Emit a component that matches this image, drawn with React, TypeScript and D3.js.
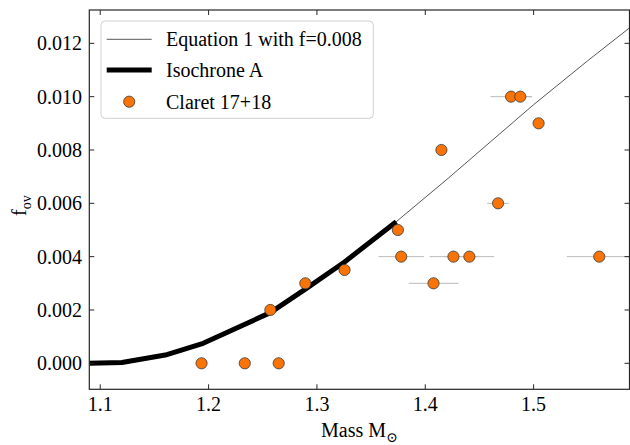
import React from "react";
import * as d3 from "d3";

const eqMass = [1.09, 1.12, 1.16, 1.195, 1.257, 1.29, 1.3255, 1.3732, 1.42, 1.46, 1.5, 1.55, 1.5885];
const eqFov = [0, 0.00003, 0.00031, 0.00075, 0.0019, 0.0028, 0.0038, 0.00531, 0.0069, 0.0083, 0.0097, 0.01135, 0.01258];

const isoMass = [1.09, 1.12, 1.16, 1.195, 1.257, 1.29, 1.3255, 1.3732];
const isoFov = [0, 0.00003, 0.00031, 0.00075, 0.0019, 0.0028, 0.0038, 0.00531];

const claretMass = [1.1935, 1.2334, 1.2647, 1.257, 1.2893, 1.3255, 1.3747, 1.3778, 1.426, 1.4407, 1.4076, 1.5606, 1.4149, 1.4792, 1.4877, 1.5046, 1.4672];
const claretFov = [0, 0, 0, 0.002, 0.003, 0.0035, 0.005, 0.004, 0.004, 0.004, 0.003, 0.004, 0.008, 0.01, 0.01, 0.009, 0.006];
const claretMassErr = [0.002, 0.002, 0.005, 0.002, 0.003, 0.002, 0.002, 0.021, 0.022, 0.023, 0.023, 0.03, 0.004, 0.019, 0.011, 0.002, 0.01];

const xTicks = [1.1, 1.2, 1.3, 1.4, 1.5];
const yTicks = [0, 0.002, 0.004, 0.006, 0.008, 0.01, 0.012];

const legendLabels = ["Equation 1 with f=0.008", "Isochrone A", "Claret 17+18"];

export default function App() {
  const W = 630, H = 445;
  const L = 89.3, R = 629.5, T = 10, B = 389.3;
  const x = d3.scaleLinear().domain([1.0899, 1.5885]).range([L, R]);
  const y = d3.scaleLinear().domain([-0.000975, 0.01325]).range([B, T]);
  const font = "\"Liberation Serif\", \"Times New Roman\", \"DejaVu Serif\", serif";
  const fs = 20;
  const line = d3.line<[number, number]>().x(d => x(d[0])).y(d => y(d[1]));
  const eqPath = line(eqMass.map((m, i) => [m, eqFov[i]] as [number, number])) || "";
  const isoPath = line(isoMass.map((m, i) => [m, isoFov[i]] as [number, number])) || "";
  const orange = "#f97306";
  const edge = "#3a3a3a";
  const tickLen = 5;
  const axisColor = "#262626";
  const ts: React.CSSProperties = { fontFamily: font };

  return (
    <svg width={W} height={H} style={{ position: "absolute", left: 0, top: 0, background: "#fff", fontFamily: font }}>
      <defs>
        <clipPath id="plotclip">
          <rect x={L} y={T} width={R - L} height={B - T} />
        </clipPath>
      </defs>
      <g clipPath="url(#plotclip)">
        <path d={eqPath} fill="none" stroke="#444" strokeWidth={0.9} />
        <path d={isoPath} fill="none" stroke="#000" strokeWidth={5} strokeLinejoin="round" />
        {claretMass.map((m, i) => (
          <line key={"e" + i} x1={x(m - claretMassErr[i])} x2={x(m + claretMassErr[i])} y1={y(claretFov[i])} y2={y(claretFov[i])} stroke="#bbb" strokeWidth={1} />
        ))}
        {claretMass.map((m, i) => (
          <circle key={"c" + i} cx={x(m)} cy={y(claretFov[i])} r={5.6} fill={orange} stroke={edge} strokeWidth={0.8} />
        ))}
      </g>
      <rect x={L} y={T} width={R - L} height={B - T} fill="none" stroke={axisColor} strokeWidth={1.2} />
      {xTicks.map(t => (
        <g key={"xt" + t}>
          <line x1={x(t)} x2={x(t)} y1={B} y2={B - tickLen} stroke={axisColor} strokeWidth={1} />
          <line x1={x(t)} x2={x(t)} y1={T} y2={T + tickLen} stroke={axisColor} strokeWidth={1} />
          <text x={x(t)} y={411} fontSize={fs} textAnchor="middle" fill="#000" style={ts}>{t.toFixed(1)}</text>
        </g>
      ))}
      {yTicks.map(t => (
        <g key={"yt" + t}>
          <line x1={L} x2={L + tickLen} y1={y(t)} y2={y(t)} stroke={axisColor} strokeWidth={1} />
          <line x1={R} x2={R - tickLen} y1={y(t)} y2={y(t)} stroke={axisColor} strokeWidth={1} />
          <text x={82} y={y(t)} dy="0.35em" fontSize={fs} textAnchor="end" fill="#000" style={ts}>{t.toFixed(3)}</text>
        </g>
      ))}
      <text x={(L + R) / 2} y={437} fontSize={fs} textAnchor="middle" fill="#000" style={ts}>
        Mass M<tspan fontSize={14} dy={5}>⊙</tspan>
      </text>
      <text transform={`translate(26, ${(T + B) / 2 + 6}) rotate(-90)`} fontSize={fs} textAnchor="middle" fill="#000" style={ts}>
        f<tspan fontSize={14} dy={5}>ov</tspan>
      </text>
      <rect x={101} y={21} width={272.3} height={97.3} rx={4} fill="#fff" fillOpacity={0.85} stroke="#d0d0d0" strokeWidth={1} />
      <line x1={106.7} x2={151.7} y1={39.3} y2={39.3} stroke="#444" strokeWidth={0.9} />
      <line x1={106.7} x2={151.7} y1={70} y2={70} stroke="#000" strokeWidth={5} />
      <circle cx={129.2} cy={101.7} r={5.6} fill={orange} stroke={edge} strokeWidth={0.8} />
      {legendLabels.map((lab, i) => (
        <text key={lab} x={166} y={[39.3, 70, 101.7][i]} dy="0.35em" fontSize={fs} fill="#000" style={ts}>{lab}</text>
      ))}
    </svg>
  );
}
